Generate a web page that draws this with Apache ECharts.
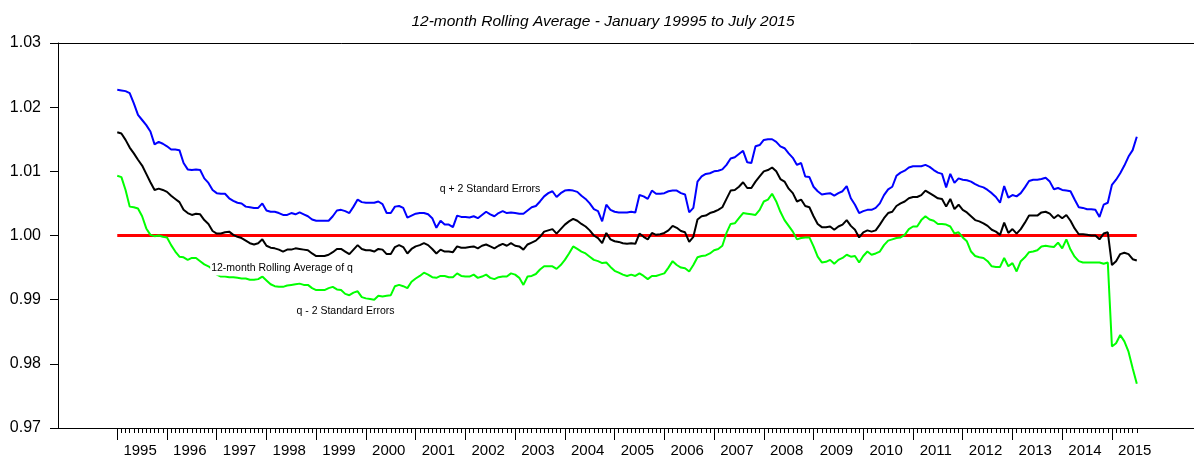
<!DOCTYPE html>
<html><head><meta charset="utf-8">
<script src="https://cdn.jsdelivr.net/npm/echarts@6/dist/echarts.min.js"></script>
<style>html,body{margin:0;padding:0;background:#fff}#c{width:1194px;height:461px}</style>
</head><body><div id="c"></div>
<script>
// Monthly observations, January 1995 .. July 2015
const yearLabels = ['1995','1996','1997','1998','1999','2000','2001','2002','2003','2004','2005','2006','2007','2008','2009','2010','2011','2012','2013','2014','2015'];
const referenceLevel = 1.00;

const upper = [
1.0227,1.0226,1.0225,1.0222,1.0206,1.0188,1.0180,1.0172,1.0162,1.0142,1.0146,1.0143,
1.0139,1.0134,1.0134,1.0133,1.0113,1.0103,1.0102,1.0103,1.0102,1.0089,1.0082,1.0071,
1.0066,1.0065,1.0065,1.0058,1.0054,1.0051,1.0050,1.0045,1.0044,1.0043,1.0043,1.0050,
1.0039,1.0037,1.0037,1.0035,1.0032,1.0032,1.0035,1.0033,1.0036,1.0033,1.0030,1.0025,
1.0023,1.0023,1.0023,1.0023,1.0030,1.0039,1.0040,1.0038,1.0035,1.0045,1.0056,1.0052,
1.0051,1.0051,1.0051,1.0053,1.0049,1.0035,1.0035,1.0045,1.0046,1.0043,1.0028,1.0031,
1.0034,1.0035,1.0035,1.0033,1.0027,1.0012,1.0023,1.0017,1.0017,1.0013,1.0031,1.0029,
1.0029,1.0028,1.0030,1.0027,1.0032,1.0037,1.0033,1.0030,1.0035,1.0038,1.0035,1.0036,
1.0035,1.0034,1.0034,1.0039,1.0044,1.0046,1.0053,1.0061,1.0066,1.0069,1.0060,1.0066,
1.0070,1.0071,1.0070,1.0068,1.0062,1.0057,1.0050,1.0041,1.0038,1.0022,1.0048,1.0040,
1.0037,1.0036,1.0036,1.0036,1.0037,1.0036,1.0063,1.0061,1.0057,1.0070,1.0065,1.0065,
1.0066,1.0069,1.0070,1.0070,1.0066,1.0064,1.0036,1.0043,1.0084,1.0092,1.0096,1.0097,
1.0100,1.0101,1.0103,1.0110,1.0120,1.0122,1.0127,1.0132,1.0114,1.0113,1.0139,1.0141,
1.0149,1.0150,1.0150,1.0146,1.0139,1.0136,1.0128,1.0121,1.0110,1.0113,1.0092,1.0091,
1.0076,1.0069,1.0064,1.0065,1.0066,1.0062,1.0066,1.0069,1.0077,1.0058,1.0048,1.0035,
1.0038,1.0040,1.0040,1.0043,1.0050,1.0063,1.0072,1.0076,1.0093,1.0098,1.0101,1.0106,
1.0108,1.0108,1.0108,1.0110,1.0107,1.0102,1.0098,1.0096,1.0075,1.0096,1.0082,1.0089,
1.0087,1.0086,1.0084,1.0080,1.0077,1.0075,1.0071,1.0066,1.0060,1.0051,1.0077,1.0059,
1.0063,1.0061,1.0066,1.0075,1.0085,1.0087,1.0087,1.0088,1.0090,1.0084,1.0072,1.0074,
1.0071,1.0070,1.0069,1.0056,1.0044,1.0043,1.0041,1.0041,1.0040,1.0029,1.0048,1.0051,
1.0079,1.0087,1.0097,1.0109,1.0123,1.0133,1.0154
];

const average = [
1.0161,1.0159,1.0149,1.0137,1.0128,1.0118,1.0109,1.0096,1.0083,1.0071,1.0073,1.0071,
1.0068,1.0062,1.0057,1.0052,1.0040,1.0035,1.0032,1.0034,1.0033,1.0024,1.0018,1.0007,
1.0003,1.0003,1.0005,1.0006,1.0001,0.9998,0.9996,0.9992,0.9988,0.9986,0.9988,0.9994,
0.9984,0.9981,0.9980,0.9978,0.9975,0.9978,0.9978,0.9980,0.9979,0.9978,0.9977,0.9972,
0.9968,0.9968,0.9968,0.9970,0.9974,0.9979,0.9979,0.9975,0.9971,0.9978,0.9985,0.9979,
0.9977,0.9977,0.9975,0.9979,0.9978,0.9971,0.9971,0.9982,0.9985,0.9982,0.9972,0.9979,
0.9983,0.9985,0.9988,0.9985,0.9979,0.9972,0.9978,0.9975,0.9975,0.9974,0.9983,0.9981,
0.9981,0.9982,0.9983,0.9980,0.9984,0.9986,0.9983,0.9980,0.9984,0.9987,0.9984,0.9988,
0.9984,0.9983,0.9978,0.9986,0.9989,0.9992,0.9998,1.0006,1.0008,1.0010,1.0003,1.0010,
1.0017,1.0022,1.0026,1.0023,1.0018,1.0014,1.0008,1.0000,0.9996,0.9988,1.0004,0.9994,
0.9991,0.9990,0.9988,0.9987,0.9988,0.9987,1.0003,0.9998,0.9994,1.0004,1.0001,1.0002,
1.0004,1.0008,1.0015,1.0012,1.0007,1.0005,0.9990,0.9998,1.0025,1.0030,1.0031,1.0035,
1.0037,1.0040,1.0044,1.0057,1.0070,1.0071,1.0076,1.0083,1.0074,1.0074,1.0084,1.0092,
1.0100,1.0102,1.0106,1.0100,1.0088,1.0084,1.0073,1.0066,1.0053,1.0056,1.0046,1.0044,
1.0030,1.0018,1.0013,1.0013,1.0014,1.0009,1.0014,1.0017,1.0024,1.0015,1.0009,0.9997,
1.0005,1.0008,1.0006,1.0008,1.0017,1.0027,1.0035,1.0037,1.0046,1.0050,1.0053,1.0058,
1.0060,1.0060,1.0063,1.0070,1.0066,1.0062,1.0058,1.0057,1.0045,1.0057,1.0041,1.0048,
1.0040,1.0036,1.0030,1.0024,1.0022,1.0019,1.0015,1.0009,1.0006,1.0001,1.0020,1.0004,
1.0010,1.0003,1.0010,1.0020,1.0031,1.0031,1.0031,1.0036,1.0037,1.0034,1.0027,1.0032,
1.0027,1.0032,1.0023,1.0011,1.0002,1.0002,1.0001,1.0000,1.0000,0.9994,1.0003,1.0005,
0.9954,0.9960,0.9971,0.9973,0.9971,0.9963,0.9961
];

const lower = [
1.0093,1.0091,1.0071,1.0045,1.0044,1.0042,1.0030,1.0011,1.0001,0.9999,1.0000,0.9998,
0.9997,0.9985,0.9975,0.9967,0.9966,0.9962,0.9965,0.9965,0.9960,0.9955,0.9952,0.9947,
0.9939,0.9936,0.9936,0.9935,0.9935,0.9934,0.9933,0.9933,0.9931,0.9931,0.9932,0.9936,
0.9930,0.9924,0.9921,0.9920,0.9920,0.9922,0.9923,0.9924,0.9925,0.9923,0.9923,0.9918,
0.9915,0.9915,0.9915,0.9918,0.9920,0.9916,0.9915,0.9909,0.9907,0.9911,0.9913,0.9904,
0.9902,0.9901,0.9900,0.9906,0.9905,0.9906,0.9907,0.9921,0.9923,0.9921,0.9918,0.9928,
0.9933,0.9937,0.9942,0.9939,0.9935,0.9934,0.9937,0.9937,0.9935,0.9935,0.9941,0.9937,
0.9936,0.9936,0.9939,0.9934,0.9936,0.9939,0.9934,0.9932,0.9935,0.9936,0.9936,0.9941,
0.9939,0.9934,0.9923,0.9936,0.9937,0.9940,0.9947,0.9952,0.9952,0.9952,0.9948,0.9954,
0.9962,0.9972,0.9983,0.9979,0.9975,0.9972,0.9967,0.9962,0.9960,0.9957,0.9958,0.9951,
0.9945,0.9942,0.9939,0.9937,0.9939,0.9937,0.9941,0.9937,0.9932,0.9937,0.9937,0.9939,
0.9941,0.9950,0.9960,0.9954,0.9950,0.9949,0.9944,0.9954,0.9966,0.9968,0.9969,0.9972,
0.9977,0.9979,0.9984,1.0004,1.0018,1.0019,1.0027,1.0035,1.0034,1.0033,1.0032,1.0040,
1.0053,1.0056,1.0065,1.0053,1.0037,1.0024,1.0015,1.0006,0.9994,0.9996,0.9997,0.9997,
0.9983,0.9967,0.9958,0.9959,0.9962,0.9956,0.9962,0.9965,0.9970,0.9967,0.9968,0.9958,
0.9968,0.9975,0.9970,0.9972,0.9975,0.9985,0.9992,0.9994,0.9996,0.9997,1.0001,1.0010,
1.0014,1.0014,1.0024,1.0030,1.0025,1.0023,1.0018,1.0018,1.0017,1.0014,1.0003,1.0005,
0.9997,0.9991,0.9975,0.9968,0.9966,0.9965,0.9960,0.9952,0.9951,0.9951,0.9965,0.9952,
0.9957,0.9944,0.9960,0.9966,0.9974,0.9975,0.9977,0.9983,0.9984,0.9983,0.9982,0.9989,
0.9980,0.9994,0.9978,0.9967,0.9960,0.9958,0.9958,0.9958,0.9958,0.9958,0.9956,0.9958,
0.9827,0.9832,0.9845,0.9835,0.9819,0.9793,0.9769
];

const chart = echarts.init(document.getElementById('c'), null, {renderer: 'canvas'});
const FONT = "'Liberation Sans', Arial, Helvetica, sans-serif";
const toPairs = arr => arr.map((v, i) => [i, v]);
const n = average.length;
const monthTicks = Array.from({length: n}, (_, i) => i);
const yearTicks = yearLabels.map((_, k) => k * 12);
const yearLabelPos = yearLabels.map((_, k) => k * 12 + 5.5);
const X_MIN = -14.3, X_MAX = 259.8;

const lineSeries = (name, data, color, width) => ({
  name, type: 'line', data: toPairs(data), xAxisIndex: 0, yAxisIndex: 0,
  showSymbol: false, symbol: 'none', smooth: false,
  lineStyle: {color, width}, itemStyle: {color}, emphasis: {disabled: true}, silent: true
});

chart.setOption({
  animation: false,
  backgroundColor: '#fff',
  grid: {left: 58, right: 0, top: 43, bottom: 33, outerBoundsMode: 'none', containLabel: false},
  xAxis: [
    {type: 'value', min: X_MIN, max: X_MAX, position: 'bottom',
     axisLine: {show: true, onZero: false, lineStyle: {color: '#000', width: 1}},
     splitLine: {show: false},
     axisTick: {show: true, customValues: monthTicks, length: 5, lineStyle: {color: '#000', width: 1}},
     axisLabel: {show: true, customValues: yearLabelPos,
       formatter: v => yearLabels[Math.round((v - 5.5) / 12)] || '',
       margin: 15, fontSize: 15, color: '#000', fontFamily: FONT}},
    {type: 'value', min: X_MIN, max: X_MAX, position: 'bottom',
     axisLine: {show: false, onZero: false}, splitLine: {show: false},
     axisTick: {show: true, customValues: yearTicks, length: 12, lineStyle: {color: '#000', width: 1}},
     axisLabel: {show: false}},
    {type: 'value', min: X_MIN, max: X_MAX, position: 'top',
     axisLine: {show: true, onZero: false, lineStyle: {color: '#000', width: 1}},
     axisTick: {show: false}, axisLabel: {show: false}, splitLine: {show: false}}
  ],
  yAxis: {type: 'value', min: 0.97, max: 1.03, interval: 0.01,
    axisLine: {show: true, onZero: false, lineStyle: {color: '#000', width: 1}},
    axisTick: {show: true, length: 8, lineStyle: {color: '#000', width: 1}},
    axisLabel: {formatter: v => v.toFixed(2), margin: 17, fontSize: 16, color: '#000', fontFamily: FONT},
    splitLine: {show: false}},
  series: [
    {name: 'reference', type: 'line', data: [[0, referenceLevel], [n - 1, referenceLevel]],
     showSymbol: false, symbol: 'none', lineStyle: {color: '#ff0000', width: 3}, silent: true},
    lineSeries('q + 2 Standard Errors', upper, '#0000ff', 2),
    lineSeries('12-month Rolling Average of q', average, '#000000', 2),
    lineSeries('q - 2 Standard Errors', lower, '#00ff00', 2)
  ],
  graphic: [
    {type: 'text', x: 603, y: 21.5, z: 100,
     style: {text: '12-month Rolling Average - January 19995 to July 2015', font: 'italic 15.5px ' + FONT,
       fill: '#000', align: 'center', verticalAlign: 'middle', textAlign: 'center', textVerticalAlign: 'middle'}},
    {type: 'text', x: 490, y: 189.5, z: 100,
     style: {text: 'q + 2 Standard Errors', font: '10.5px ' + FONT, fill: '#000',
       align: 'center', verticalAlign: 'middle', textAlign: 'center', textVerticalAlign: 'middle'}},
    {type: 'text', x: 282, y: 268, z: 100,
     style: {text: '12-month Rolling Average of q', font: '10.5px ' + FONT, fill: '#000',
       backgroundColor: '#fff', padding: [2, 1, 2, 1],
       align: 'center', verticalAlign: 'middle', textAlign: 'center', textVerticalAlign: 'middle'}},
    {type: 'text', x: 345.5, y: 311, z: 100,
     style: {text: 'q - 2 Standard Errors', font: '10.5px ' + FONT, fill: '#000',
       align: 'center', verticalAlign: 'middle', textAlign: 'center', textVerticalAlign: 'middle'}}
  ]
});
</script>
</body></html>
